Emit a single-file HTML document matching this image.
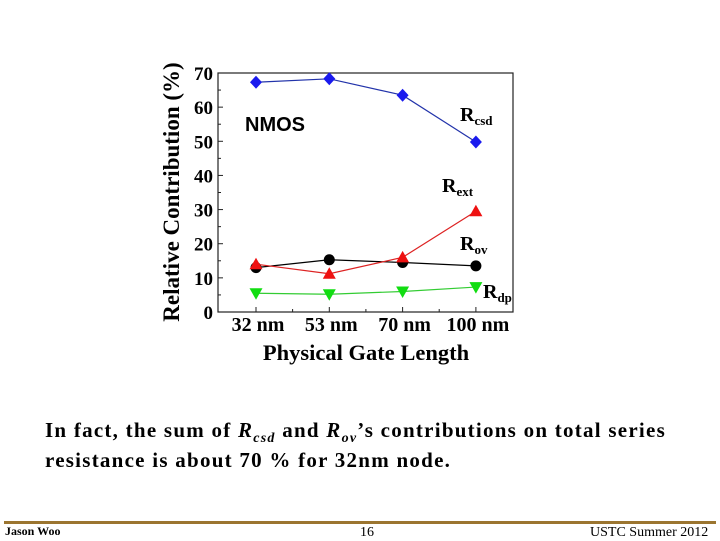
<!DOCTYPE html>
<html><head><meta charset="utf-8"><style>
body{margin:0;width:720px;height:540px;background:#fff;overflow:hidden;position:relative;font-family:"Liberation Serif",serif}
.t{position:absolute;white-space:nowrap}
.cap{font-size:21px;font-weight:bold;letter-spacing:1.25px}
</style></head><body>
<svg width="720" height="540" style="position:absolute;left:0;top:0" id="svg"></svg>
<div class="t cap" style="left:45px;top:418px">In fact, the sum of <i>R<sub style="font-size:14px">csd</sub></i> and <i>R<sub style="font-size:14px">ov</sub></i>’s contributions on total series</div>
<div class="t cap" style="left:45px;top:448px">resistance is about 70 % for 32nm node.</div>
<div style="position:absolute;left:4px;top:521px;width:712px;height:3px;background:#9b7530"></div>
<div class="t" style="left:5px;top:524px;font-size:12px;font-weight:bold">Jason Woo</div>
<div class="t" style="left:360px;top:525px;font-size:14px">16</div>
<div class="t" style="left:590px;top:525px;font-size:14px">USTC  Summer 2012</div>
<script>
const categories=["32 nm","53 nm","70 nm","100 nm"];
const yTicks=[0,10,20,30,40,50,60,70];
const rcsd=[67.3,68.3,63.5,49.8];
const rext=[14,11.2,16,29.5];
const rov=[13,15.3,14.5,13.5];
const rdp=[5.5,5.2,6.0,7.3];
const svg=document.getElementById('svg');
const NS='http://www.w3.org/2000/svg';
const L=218,R=513,T=73,B=312;
const y=v=>B-(v/70)*(B-T);
const x=i=>256+i*73.3;
function mk(tag,a,p){const e=document.createElementNS(NS,tag);for(const k in a)e.setAttribute(k,a[k]);(p||svg).appendChild(e);return e;}
const frame=mk('rect',{x:L,y:T,width:R-L,height:B-T,fill:'none',stroke:'#222','stroke-width':1.2});


yTicks.forEach(v=>{
 mk('line',{x1:L,x2:L+5,y1:y(v),y2:y(v),stroke:'#222'});
 if(v<70) mk('line',{x1:L,x2:L+3,y1:y(v+5),y2:y(v+5),stroke:'#222'});
 const t=mk('text',{x:L-5,y:y(v)+7,'text-anchor':'end','font-size':19,'font-weight':'bold','font-family':'Liberation Serif'});
 t.textContent=v;
 
 
});
categories.forEach((c,i)=>{
 mk('line',{x1:x(i),x2:x(i),y1:B,y2:B-5,stroke:'#222'});
 if(i<3) mk('line',{x1:x(i)+36.6,x2:x(i)+36.6,y1:B,y2:B-3,stroke:'#222'});
 const t=mk('text',{x:x(i)+2,y:331,'text-anchor':'middle','font-size':20,'font-weight':'bold','font-family':'Liberation Serif'});
 t.textContent=c;
 
 
});
const xt=mk('text',{x:366,y:360,'text-anchor':'middle','font-size':22.5,'font-weight':'bold','font-family':'Liberation Serif'});
xt.textContent='Physical Gate Length';


const yt=mk('text',{x:0,y:0,'text-anchor':'middle','font-size':23,'font-weight':'bold','font-family':'Liberation Serif',transform:'translate(179,192) rotate(-90)'});
yt.textContent='Relative Contribution (%)';


function series(data,color,lineColor,shape,name){
 const g=mk('g',{});
 
 
 mk('polyline',{points:data.map((v,i)=>x(i)+','+y(v)).join(' '),fill:'none',stroke:lineColor,'stroke-width':1.2},g);
 data.forEach((v,i)=>{
  const cx=x(i),cy=y(v);let m;
  if(shape==='d') m=mk('polygon',{points:`${cx},${cy-6.5} ${cx+6},${cy} ${cx},${cy+6.5} ${cx-6},${cy}`,fill:color},g);
  else if(shape==='c') m=mk('circle',{cx,cy,r:5.5,fill:color},g);
  else if(shape==='u') m=mk('polygon',{points:`${cx},${cy-6.5} ${cx+6.5},${cy+5} ${cx-6.5},${cy+5}`,fill:color},g);
  else m=mk('polygon',{points:`${cx},${cy+6.5} ${cx+6.5},${cy-5} ${cx-6.5},${cy-5}`,fill:color},g);
  
  
 });
}
series(rcsd,'#1a1aee','#2233aa','d','series-rcsd');
series(rov,'#000','#000','c','series-rov');
series(rext,'#ee1111','#dd2222','u','series-rext');
series(rdp,'#11dd11','#33cc33','v','series-rdp');
function lab(txt,sub,lx,ly,name){
 const t=mk('text',{x:lx,y:ly,'font-size':20,'font-weight':'bold','font-family':'Liberation Serif'});
 t.innerHTML=txt+'<tspan font-size="13" dy="4">'+sub+'</tspan>';
 
 
}
lab('R','csd',460,121,'label-rcsd');lab('R','ext',442,192,'label-rext');
lab('R','ov',460,250,'label-rov');lab('R','dp',483,298,'label-rdp');
const nm=mk('text',{x:245,y:131,'font-size':20,'font-weight':'bold','font-family':'Liberation Sans'});
nm.textContent='NMOS';


</script>
</body></html>
